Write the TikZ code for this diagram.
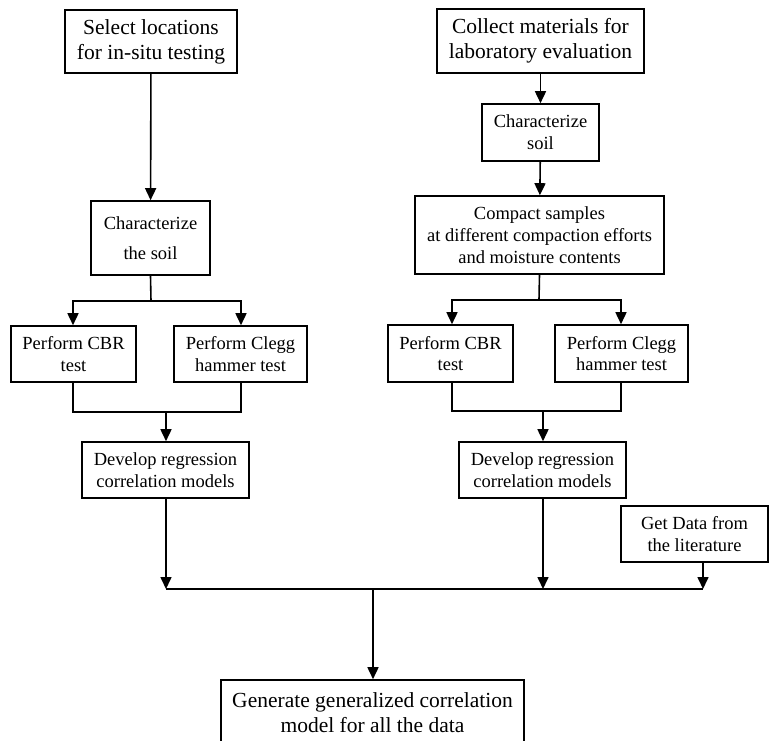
\documentclass[tikz,border=0pt]{standalone}
\usepackage{fontspec}
\setmainfont{Liberation Serif}
\usetikzlibrary{arrows.meta,positioning}

\tikzset{
    box/.style = {draw, line width=1.6pt, align=center, inner sep=0pt},
    bigbox/.style = {box, font=\fontsize{21.5}{25}\selectfont},
    smallbox/.style = {box, font=\fontsize{18.5}{21.7}\selectfont},
    link/.style = {line width=1.6pt},
    arr/.style = {link, -{Triangle[width=11pt,length=12pt]}}
}

\begin{document}
\begin{tikzpicture}[x=1pt, y=-1pt]
    \clip (0,0) rectangle (769,740);
    \node[bigbox, minimum width=172pt, minimum height=63pt] (select) at (151,41.5) {Select locations\\for in-situ testing};
    \node[bigbox, minimum width=207pt, minimum height=64pt] (collect) at (540.5,41) {Collect materials for\\laboratory evaluation};
    \node[smallbox, font=\fontsize{18.5}{30}\selectfont, minimum width=119pt, minimum height=74pt] (charl) at (150.5,238) {Characterize\\the soil};
    \node[smallbox, minimum width=117pt, minimum height=57pt] (charr) at (540.5,132.5) {Characterize\\soil};
    \node[smallbox, minimum width=249pt, minimum height=78pt] (compact) at (539.5,235) {Compact samples\\at different compaction efforts\\and moisture contents};
    \node[smallbox, minimum width=125pt, minimum height=56pt] (cbrl) at (73.5,354) {Perform CBR\\test};
    \node[smallbox, minimum width=133pt, minimum height=56pt] (cleggl) at (240.5,354) {Perform Clegg\\hammer test};
    \node[smallbox, minimum width=125pt, minimum height=57pt] (cbrr) at (450.5,353.5) {Perform CBR\\test};
    \node[smallbox, minimum width=133pt, minimum height=57pt] (cleggr) at (621.5,353.5) {Perform Clegg\\hammer test};
    \node[smallbox, minimum width=167pt, minimum height=56pt] (devl) at (165.5,470) {Develop regression\\correlation models};
    \node[smallbox, minimum width=167pt, minimum height=56pt] (devr) at (542.5,470) {Develop regression\\correlation models};
    \node[smallbox, minimum width=147pt, minimum height=56pt] (lit) at (694.5,534) {Get Data from\\the literature};
    \node[bigbox, minimum width=303pt, minimum height=66pt] (gen) at (372.5,713) {Generate generalized correlation\\model for all the data};

    \coordinate (splitl) at (151,301);
    \coordinate (splitr) at (539,300);
    \coordinate (joinl) at (166,412);
    \coordinate (joinr) at (543,411);
    \coordinate (bus) at (373,589);
    \coordinate (litout) at ([xshift=8.5pt]lit.south);

    \draw[arr] (select) -- (charl);
    \draw[arr] (collect) -- (charr);
    \draw[arr] (charr) -- (compact);

    \draw[link] (charl.south) -- (splitl);
    \draw[arr] (splitl) -| ([xshift=-0.5pt]cbrl.north);
    \draw[arr] (splitl) -| ([xshift=0.5pt]cleggl.north);
    \draw[link] ([xshift=-0.5pt]cbrl.south) |- (joinl) -| ([xshift=0.5pt]cleggl.south);
    \draw[arr] (joinl) -- (joinl |- devl.north);

    \draw[link] (compact.south) -- (splitr);
    \draw[arr] (splitr) -| ([xshift=1.5pt]cbrr.north);
    \draw[arr] (splitr) -| ([xshift=-0.5pt]cleggr.north);
    \draw[link] ([xshift=1.5pt]cbrr.south) |- (joinr) -| ([xshift=-0.5pt]cleggr.south);
    \draw[arr] (joinr) -- (joinr |- devr.north);

    \draw[arr] (devl.south -| joinl) -- (joinl |- bus);
    \draw[arr] (devr.south -| joinr) -- (joinr |- bus);
    \draw[arr] (litout) -- (litout |- bus);
    \draw[link] (joinl |- bus) -- (litout |- bus);
    \draw[arr] (bus) -- (bus |- gen.north);
\end{tikzpicture}
\end{document}
